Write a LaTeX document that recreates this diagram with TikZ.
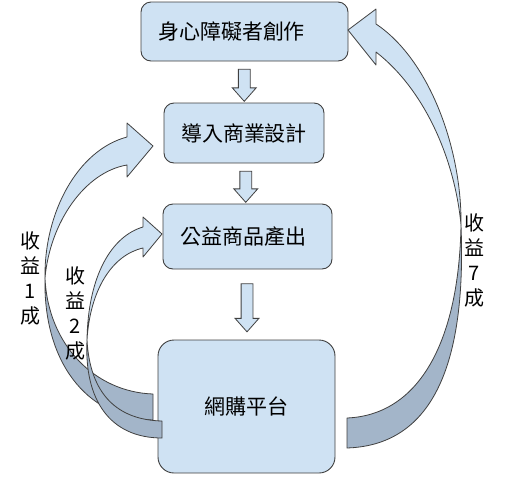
\documentclass[tikz,border=0pt]{standalone}
\usepackage{fontspec}
\setmainfont{Noto Sans CJK TC}
\usetikzlibrary{positioning,shapes.arrows,calc}
\definecolor{boxblue}{HTML}{CFE2F3}
\definecolor{backblue}{HTML}{A3B5C9}
\definecolor{edgegray}{HTML}{404040}

\begin{document}
\begin{tikzpicture}[
  x=1pt, y=-1pt,
  stepbox/.style={rectangle, draw=edgegray, fill=boxblue, rounded corners=10pt, line width=0.9pt, align=center, inner sep=0pt, font=\fontsize{21}{25}\selectfont},
  downarrow/.style={single arrow, shape border rotate=270, draw=edgegray, fill=boxblue, line width=0.8pt, inner sep=5.5pt, minimum width=23pt, single arrow head extend=6pt, single arrow tip angle=83},
  front/.style={draw=edgegray, fill=boxblue, line width=0.8pt, line join=round},
  back/.style={draw=edgegray, fill=backblue, line width=0.8pt, line join=round},
  sidenote/.style={align=center, inner sep=0pt, font=\fontsize{20}{25}\selectfont}
]
  \useasboundingbox (0,0) rectangle (515,480);

  \node[stepbox, minimum width=207pt, minimum height=59pt] (create) at (244.5,31.5) {身心障礙者創作\hspace*{26pt}};
  \node[stepbox, minimum width=160pt, minimum height=60pt] (design) at (244,133) {導入商業設計};
  \node[stepbox, minimum width=169pt, minimum height=65pt] (product) at (247.5,236.5) {公益商品產出\hspace*{8pt}};
  \node[stepbox, minimum width=177pt, minimum height=133pt, rounded corners=16pt] (shop) at (246.5,406.5) {網購平台};

  % flow downwards
  \node[downarrow, minimum height=32pt] (flowa) at ($(create.south)!0.5!(design.north)$) {};
  \node[downarrow, minimum height=31pt] (flowb) at ($(design.south)!0.5!(product.north)$) {};
  \node[downarrow, minimum height=48pt] (flowc) at ($(product.south)!0.5!(shop.north)$) {};

  % income back to design (1 of 10)
  \draw[back] (45,278) .. controls (48,345) and (95,392) .. (153,394) -- (153,420)
    .. controls (85,418) and (43,360) .. (45,278) -- cycle;
  \draw[front] (127,137) .. controls (78,150) and (44,212) .. (45,278)
    .. controls (50,222) and (85,172) .. (127,165) -- (127,177) -- (153,146) -- (127,123) -- cycle;

  % income back to product (2 of 10)
  \draw[back] (87,340) .. controls (90,395) and (118,420) .. (162,421) -- (162,438)
    .. controls (110,438) and (84,400) .. (87,340) -- cycle;
  \draw[front] (143,227) .. controls (112,236) and (88,275) .. (87,340)
    .. controls (90,290) and (112,255) .. (143,248) -- (143,257) -- (162,234) -- (143,217) -- cycle;

  % income back to the artists (7 of 10)
  \draw[back] (461,225) .. controls (459,340) and (420,415) .. (347,418) -- (347,448)
    .. controls (440,445) and (466,350) .. (461,225) -- cycle;
  \draw[front] (376,24) .. controls (430,60) and (462,150) .. (461,225)
    .. controls (455,160) and (425,90) .. (376,52) -- (376,65) -- (348,30) -- (376,9) -- cycle;

  \node[sidenote] (cut1) at (30,278) {收\\益\\1\\成};
  \node[sidenote] (cut2) at (75,313) {收\\益\\2\\成};
  \node[sidenote] (cut7) at (474,260) {收\\益\\7\\成};
\end{tikzpicture}
\end{document}
